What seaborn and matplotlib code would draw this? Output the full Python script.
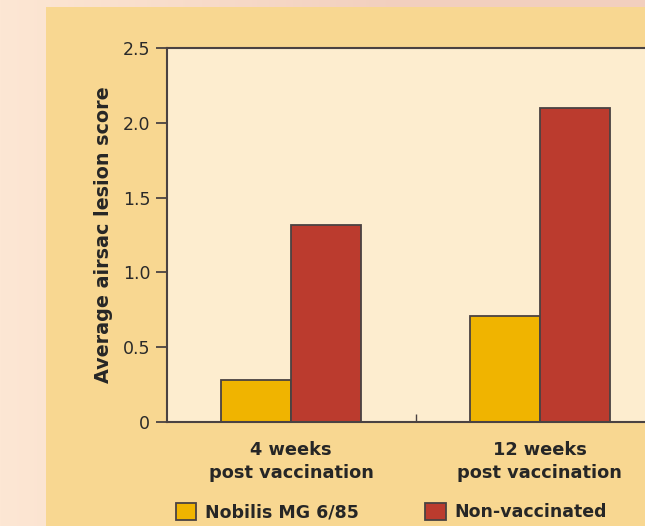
import numpy as np
import pandas as pd
import matplotlib
matplotlib.use('Agg')
import matplotlib.pyplot as plt
from matplotlib.colors import to_rgb
from matplotlib.patches import Rectangle
import seaborn as sns

# dados
timepoints = ['4 weeks\npost vaccination', '12 weeks\npost vaccination']
groups = ['Nobilis MG 6/85', 'Non-vaccinated']
nobilis = [0.28, 0.71]
nonvacc = [1.32, 2.10]
yticks = [0, 0.5, 1.0, 1.5, 2.0, 2.5]
ytick_labels = ['0', '0.5', '1.0', '1.5', '2.0', '2.5']

df = pd.DataFrame({
    'time': timepoints * 2,
    'group': [groups[0]] * 2 + [groups[1]] * 2,
    'score': nobilis + nonvacc,
})

sns.set_style('ticks')
plt.rcParams['font.family'] = ['DejaVu Sans']

fig = plt.figure(figsize=(6.45, 5.26), dpi=100, facecolor='#f8e0cf')

# fundo com degradê suave (peach -> rosado)
c1 = np.array(to_rgb('#fde7d4'))
c2 = np.array(to_rgb('#f2cfbe'))
t = np.clip(np.linspace(0, 1.6, 645), 0, 1)[None, :, None]
grad = np.repeat(c1 * (1 - t) + c2 * t, 526, axis=0)
fig.figimage(grad, 0, 0, zorder=-10)

# painel amarelo por trás do gráfico
fig.patches.append(Rectangle((46 / 645, 0), 1, 1 - 7 / 526, transform=fig.transFigure,
                             facecolor='#f8d791', edgecolor='none', zorder=-5))

ax = fig.add_axes([167 / 645, 1 - 422 / 526, 497 / 645, 374 / 526])
ax.set_facecolor('#fdedcf')

sns.barplot(data=df, x='time', y='score', hue='group', ax=ax,
            palette=['#f0b400', '#bb3b2e'], width=0.562, gap=0,
            edgecolor='#4a4242', linewidth=1.3, saturation=1)

ax.set_xlim(-0.5, 1.5)
ax.set_ylim(0, 2.5)
ax.set_yticks(yticks)
ax.set_yticklabels(ytick_labels)
ax.set_xticks([0, 1])
ax.set_xticklabels(timepoints, fontweight='bold', fontsize=12.8, linespacing=1.3)
ax.set_xticks([0.5], minor=True)
ax.tick_params(axis='x', which='major', length=0, pad=14)
ax.tick_params(axis='x', which='minor', length=6, width=1, color='#4a4242', direction='in')
ax.tick_params(axis='y', length=8, width=1.3, color='#4a4242', labelsize=12.5, pad=4,
               labelcolor='#2a2a2a')
ax.set_xlabel('')
ax.set_ylabel('Average airsac lesion score', fontweight='bold', fontsize=13.8, labelpad=7)

for s in ['left', 'bottom', 'top', 'right']:
    ax.spines[s].set_color('#4a4242')
    ax.spines[s].set_linewidth(1.5)

leg = ax.get_legend()
handles = leg.legend_handles
leg.remove()
fig.legend(handles, groups, loc='center left', bbox_to_anchor=(160 / 645, 1 - 512 / 526),
           ncol=2, frameon=False, handlelength=1.2, handleheight=1.2, handletextpad=0.5,
           columnspacing=3.8, prop={'weight': 'bold', 'size': 12.5})

plt.savefig('out.png', dpi=100, facecolor=fig.get_facecolor())
